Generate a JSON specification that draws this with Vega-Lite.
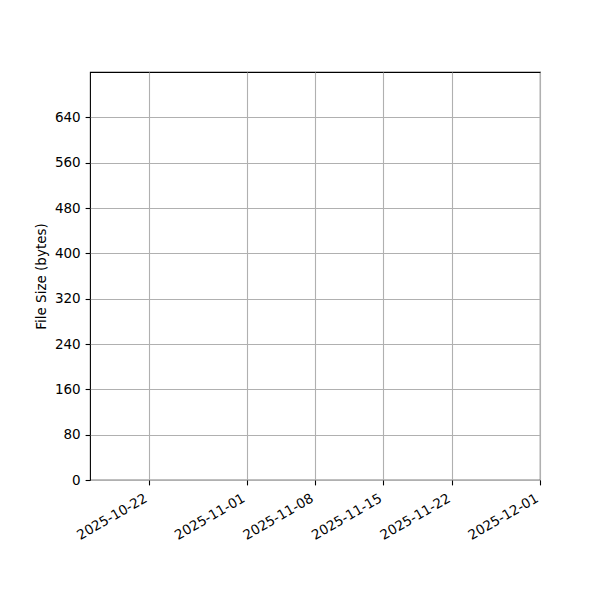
{
  "$schema": "https://vega.github.io/schema/vega-lite/v6.json",
  "width": 450,
  "height": 408,
  "autosize": {"type": "none"},
  "padding": {"left": 90, "top": 72, "right": 60, "bottom": 120},
  "background": "white",
  "config": {
    "view": {"stroke": "black", "strokeWidth": 1.1},
    "font": "DejaVu Sans",
    "axis": {
      "grid": true,
      "gridColor": "#b0b0b0",
      "gridWidth": 1.1,
      "domain": false,
      "tickColor": "black",
      "tickSize": 4.9,
      "tickWidth": 1.1,
      "labelColor": "black",
      "labelFont": "DejaVu Sans",
      "labelFontSize": 13.5,
      "labelPadding": 4.9,
      "titleFont": "DejaVu Sans",
      "titleFontSize": 13.5,
      "titleFontWeight": "normal",
      "titleColor": "black"
    }
  },
  "data": {"values": []},
  "mark": {"type": "point"},
  "encoding": {
    "x": {
      "field": "date",
      "type": "temporal",
      "scale": {"domain": ["2025-10-16T00:00:00", "2025-12-01T00:00:00"], "nice": false},
      "axis": {
        "title": null,
        "values": ["2025-10-22T00:00:00", "2025-11-01T00:00:00", "2025-11-08T00:00:00", "2025-11-15T00:00:00", "2025-11-22T00:00:00", "2025-12-01T00:00:00"],
        "format": "%Y-%m-%d",
        "labelAngle": -30,
        "labelAlign": "right",
        "labelBaseline": "top",
        "labelOffset": -6.5,
        "labelPadding": 6,
        "labelFlush": false,
        "labelOverlap": false
      }
    },
    "y": {
      "field": "size",
      "type": "quantitative",
      "scale": {"domain": [0, 720], "nice": false},
      "axis": {
        "title": "File Size (bytes)",
        "values": [0, 80, 160, 240, 320, 400, 480, 560, 640],
        "titlePadding": 6
      }
    }
  }
}
